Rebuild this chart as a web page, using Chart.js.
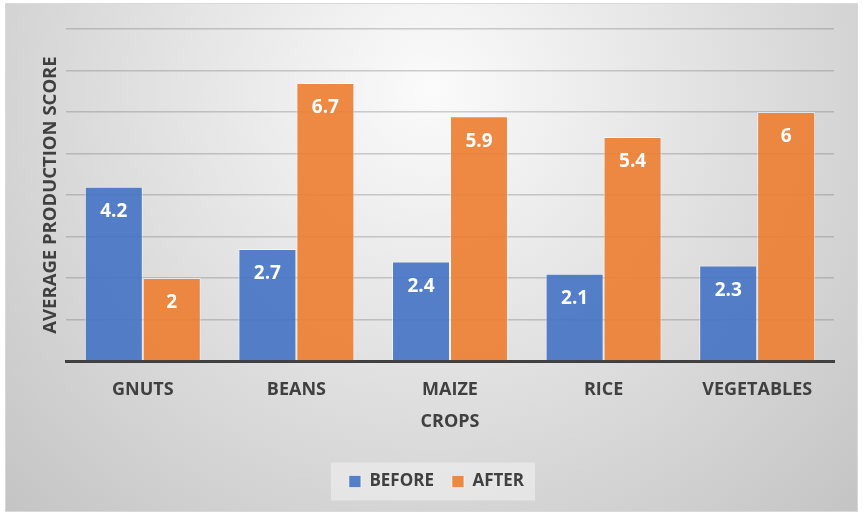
<!DOCTYPE html>
<html>
<head>
<meta charset="utf-8">
<script src="https://cdn.jsdelivr.net/npm/chart.js@4.4.1/dist/chart.umd.min.js"></script>
<style>
  html, body { margin: 0; padding: 0; background: #ffffff; }
  #wrap { width: 862px; height: 514px; position: relative; }
</style>
</head>
<body>
<div id="wrap"><canvas id="chart" width="862" height="514"></canvas></div>
<script>
const categories = ['GNUTS', 'BEANS', 'MAIZE', 'RICE', 'VEGETABLES'];
const beforeScores = [4.2, 2.7, 2.4, 2.1, 2.3];
const afterScores = [2, 6.7, 5.9, 5.4, 6];
const seriesNames = ['BEFORE', 'AFTER'];
const yAxisTitle = 'AVERAGE PRODUCTION SCORE';
const xAxisTitle = 'CROPS';

const FONT = "'Open Sans', 'Liberation Sans', sans-serif";
const TEXT = '#404040';

// Soft radial panel behind the whole chart, plus the light legend box
const panelBackground = {
  id: 'panelBackground',
  beforeDraw(chart) {
    const ctx = chart.ctx;
    const w = chart.width, h = chart.height;
    ctx.save();
    const g = ctx.createRadialGradient(431, 90, 0, 431, 90, 600);
    g.addColorStop(0, '#fbfbfb');
    g.addColorStop(1, '#c4c4c4');
    ctx.fillStyle = g;
    ctx.fillRect(5, 3, w - 9, h - 5);
    ctx.strokeStyle = '#d9d9d9';
    ctx.lineWidth = 1;
    ctx.strokeRect(5.5, 3.5, w - 10, h - 6);

    const boxes = chart.legend && chart.legend.legendHitBoxes;
    if (boxes && boxes.length) {
      const first = boxes[0], last = boxes[boxes.length - 1];
      const cy = first.top + first.height / 2;
      ctx.fillStyle = 'rgba(240,240,240,0.6)';
      ctx.fillRect(first.left - 18, cy - 19, (last.left + last.width) - first.left + 29, 38);
    }
    ctx.restore();
  }
};

// Value labels inside the top of each bar
const valueLabels = {
  id: 'valueLabels',
  afterDatasetsDraw(chart) {
    const ctx = chart.ctx;
    ctx.save();
    ctx.fillStyle = '#ffffff';
    ctx.font = 'bold 19px ' + FONT;
    ctx.textAlign = 'center';
    ctx.textBaseline = 'middle';
    chart.data.datasets.forEach((ds, di) => {
      const meta = chart.getDatasetMeta(di);
      meta.data.forEach((bar, i) => {
        ctx.fillText(String(ds.data[i]), bar.x, bar.y + 25);
      });
    });
    ctx.restore();
  }
};

new Chart(document.getElementById('chart'), {
  type: 'bar',
  data: {
    labels: categories,
    datasets: [
      {
        label: seriesNames[0],
        data: beforeScores,
        backgroundColor: 'rgba(68,114,196,0.9)',
        borderColor: 'rgba(255,255,255,0.55)',
        borderWidth: 1,
        categoryPercentage: 0.755,
        barPercentage: 1.0
      },
      {
        label: seriesNames[1],
        data: afterScores,
        backgroundColor: 'rgba(237,125,49,0.9)',
        borderColor: 'rgba(255,255,255,0.55)',
        borderWidth: 1,
        categoryPercentage: 0.755,
        barPercentage: 1.0
      }
    ]
  },
  options: {
    responsive: false,
    animation: false,
    devicePixelRatio: 1,
    layout: { padding: { top: 29, left: 39, right: 28, bottom: 14 } },
    plugins: {
      legend: {
        position: 'bottom',
        labels: {
          boxWidth: 12,
          boxHeight: 12,
          padding: 18,
          color: TEXT,
          font: { family: FONT, size: 17, weight: 'bold' }
        }
      },
      tooltip: { enabled: false }
    },
    scales: {
      x: {
        grid: { display: false, drawTicks: false },
        border: { display: true, color: '#404040', width: 3 },
        ticks: {
          color: TEXT,
          padding: 18,
          font: { family: FONT, size: 18, weight: 'bold' }
        },
        title: {
          display: true,
          text: xAxisTitle,
          color: TEXT,
          padding: { top: 10, bottom: 22 },
          font: { family: FONT, size: 18, weight: 'bold' }
        },
        afterFit(scale) { scale.height = 94; }
      },
      y: {
        min: 0,
        max: 8,
        ticks: { display: false, stepSize: 1 },
        grid: { color: 'rgba(110,110,110,0.32)', lineWidth: 1.5, drawTicks: false },
        border: { display: false },
        title: {
          display: true,
          text: yAxisTitle,
          color: TEXT,
          padding: { top: 1, bottom: 0 },
          font: { family: FONT, size: 18.5, weight: 'bold' }
        },
        afterFit(scale) { scale.width = 27; }
      }
    }
  },
  plugins: [panelBackground, valueLabels]
});
</script>
</body>
</html>
